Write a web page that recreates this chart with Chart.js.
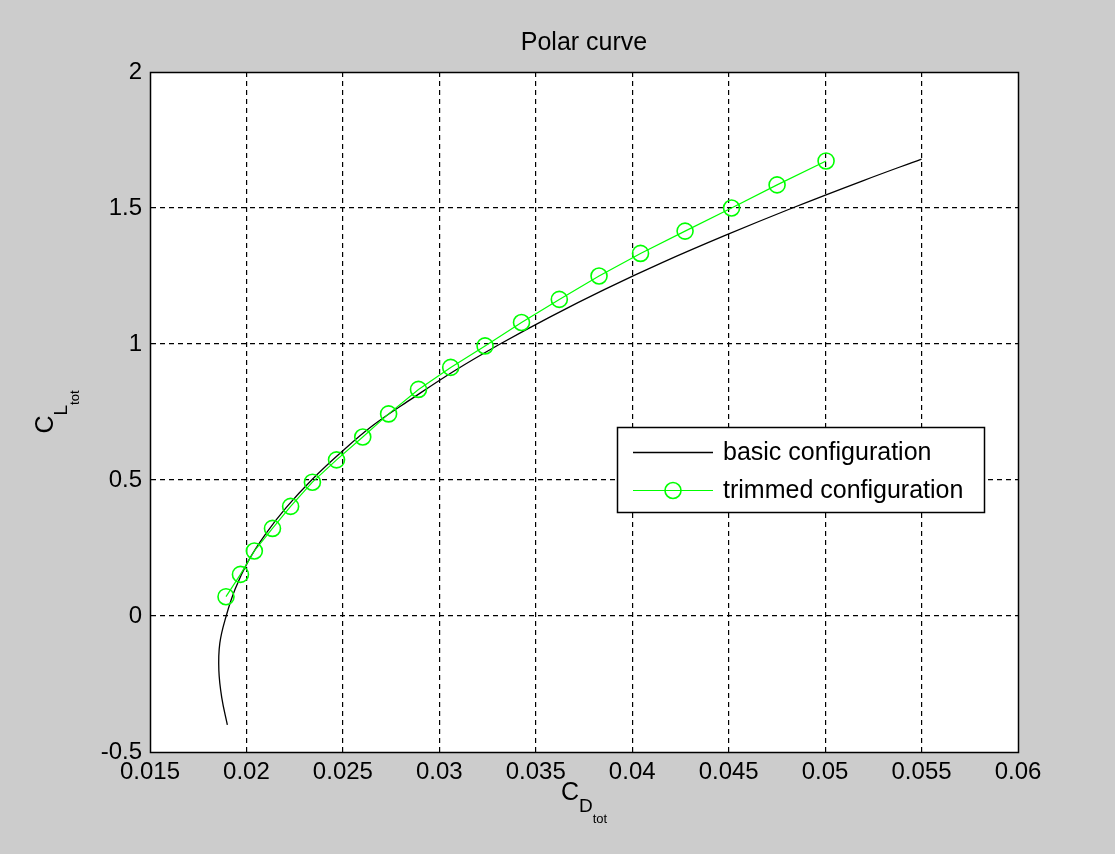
<!DOCTYPE html>
<html>
<head>
<meta charset="utf-8">
<title>Polar curve</title>
<script src="https://cdn.jsdelivr.net/npm/chart.js@4.4.1/dist/chart.umd.min.js"></script>
<style>
  body { margin: 0; background: #cccccc; }
  #wrap { width: 1115px; height: 854px; }
</style>
</head>
<body>
<div id="wrap"><canvas id="polar" width="1115" height="854"></canvas></div>
<script>
// basic configuration: drag coefficient vs lift coefficient
const clBasic = [-0.4, -0.3, -0.2, -0.1, 0, 0.1, 0.2, 0.3, 0.4, 0.5, 0.6, 0.7, 0.8, 0.9, 1.0, 1.1, 1.2, 1.3, 1.4, 1.5, 1.6, 1.68];
const cdBasic = [0.01901, 0.01872, 0.01857, 0.01862, 0.01895, 0.01942, 0.02008, 0.02098, 0.02208, 0.02338, 0.02488, 0.02655, 0.02860, 0.03075, 0.03315, 0.03575, 0.03855, 0.04158, 0.04485, 0.04830, 0.05195, 0.0550];

// trimmed configuration, one marker per point
const clTrim = [0.071, 0.153, 0.239, 0.322, 0.403, 0.492, 0.574, 0.658, 0.743, 0.833, 0.914, 0.993, 1.079, 1.164, 1.250, 1.333, 1.415, 1.500, 1.585, 1.673];
const cdTrim = [0.01894, 0.01969, 0.02041, 0.02135, 0.02229, 0.02342, 0.02467, 0.02603, 0.02737, 0.02892, 0.03059, 0.03237, 0.03426, 0.03622, 0.03828, 0.04043, 0.04274, 0.04515, 0.04751, 0.05005];

const xTicks = [0.015, 0.02, 0.025, 0.03, 0.035, 0.04, 0.045, 0.05, 0.055, 0.06];
const xTickLabels = ['0.015', '0.02', '0.025', '0.03', '0.035', '0.04', '0.045', '0.05', '0.055', '0.06'];
const yTicks = [-0.5, 0, 0.5, 1, 1.5, 2];
const yTickLabels = ['-0.5', '0', '0.5', '1', '1.5', '2'];

const FONT = 'Liberation Sans, Arial, Helvetica, sans-serif';

function toPoints(xs, ys) {
    return xs.map((x, i) => ({ x: x, y: ys[i] }));
}

// dotted grid only inside the box, the edges are drawn solid by the frame
function innerGrid(count) {
    return c => (c.index === 0 || c.index === count - 1) ? 'rgba(0,0,0,0)' : '#000';
}

// grey figure, white axes
const backdrop = {
    id: 'backdrop',
    beforeDraw(chart) {
        const { ctx, chartArea: a } = chart;
        ctx.save();
        ctx.fillStyle = '#cccccc';
        ctx.fillRect(0, 0, chart.width, chart.height);
        ctx.fillStyle = '#ffffff';
        ctx.fillRect(a.left, a.top, a.right - a.left, a.bottom - a.top);
        ctx.restore();
    }
};

// solid box around the axes
const frame = {
    id: 'frame',
    afterDatasetsDraw(chart) {
        const { ctx, chartArea: a } = chart;
        ctx.save();
        ctx.strokeStyle = '#000';
        ctx.lineWidth = 1.5;
        ctx.strokeRect(Math.round(a.left) + 0.5, Math.round(a.top) + 0.5,
            Math.round(a.right - a.left), Math.round(a.bottom - a.top));
        ctx.restore();
    }
};

// C with a subscript and a second-level subscript
function drawSubLabel(ctx, parts) {
    let w = 0;
    parts.forEach(p => {
        ctx.font = p.size + 'px ' + FONT;
        p.w = ctx.measureText(p.text).width;
        w += p.w;
    });
    let x = -w / 2;
    parts.forEach(p => {
        ctx.font = p.size + 'px ' + FONT;
        ctx.fillText(p.text, x, p.dy);
        x += p.w;
    });
}

const axisTitles = {
    id: 'axisTitles',
    afterDraw(chart) {
        const { ctx, chartArea: a } = chart;
        const midX = (a.left + a.right) / 2;
        ctx.save();
        ctx.fillStyle = '#000';

        // title over the axes
        ctx.font = '25px ' + FONT;
        ctx.textAlign = 'center';
        ctx.textBaseline = 'middle';
        ctx.fillText('Polar curve', midX, 43);

        ctx.textBaseline = 'alphabetic';
        ctx.textAlign = 'left';

        ctx.save();
        ctx.translate(midX, 800);
        drawSubLabel(ctx, [
            { text: 'C', size: 25, dy: 0 },
            { text: 'D', size: 19, dy: 12 },
            { text: 'tot', size: 13, dy: 23 }
        ]);
        ctx.restore();

        ctx.save();
        ctx.translate(53, (a.top + a.bottom) / 2);
        ctx.rotate(-Math.PI / 2);
        drawSubLabel(ctx, [
            { text: 'C', size: 25, dy: 0 },
            { text: 'L', size: 19, dy: 14 },
            { text: 'tot', size: 13, dy: 26 }
        ]);
        ctx.restore();

        ctx.restore();
    }
};

// boxed legend inside the axes
const boxLegend = {
    id: 'boxLegend',
    afterDraw(chart) {
        const { ctx } = chart;
        const left = 617, top = 427, w = 367, h = 85;
        const rows = [chart.data.datasets[1], chart.data.datasets[0]];
        ctx.save();
        ctx.fillStyle = '#fff';
        ctx.fillRect(left, top, w, h);
        ctx.strokeStyle = '#000';
        ctx.lineWidth = 1.5;
        ctx.strokeRect(left + 0.5, top + 0.5, w, h);

        ctx.font = '25px ' + FONT;
        ctx.textBaseline = 'middle';
        ctx.textAlign = 'left';
        rows.forEach((ds, i) => {
            const y = top + 25 + i * 38;
            ctx.strokeStyle = ds.borderColor;
            ctx.lineWidth = ds.borderWidth;
            ctx.beginPath();
            ctx.moveTo(633, y + 0.5);
            ctx.lineTo(713, y + 0.5);
            ctx.stroke();
            if (ds.pointRadius > 0) {
                ctx.lineWidth = ds.pointBorderWidth;
                ctx.beginPath();
                ctx.arc(673, y + 0.5, ds.pointRadius, 0, Math.PI * 2);
                ctx.stroke();
            }
            ctx.fillStyle = '#000';
            ctx.fillText(ds.label, 723, y + 1);
        });
        ctx.restore();
    }
};

const ctx = document.getElementById('polar').getContext('2d');
const polarChart = new Chart(ctx, {
    type: 'scatter',
    data: {
        datasets: [{
            label: 'trimmed configuration',
            data: toPoints(cdTrim, clTrim),
            showLine: true,
            borderColor: '#00ff00',
            borderWidth: 1.2,
            backgroundColor: 'rgba(0,0,0,0)',
            pointRadius: 8,
            pointBorderWidth: 1.6,
            pointBorderColor: '#00ff00',
            pointBackgroundColor: 'rgba(0,0,0,0)',
            tension: 0,
            order: 0
        }, {
            label: 'basic configuration',
            data: toPoints(cdBasic, clBasic),
            showLine: true,
            borderColor: '#000000',
            borderWidth: 1.3,
            pointRadius: 0,
            tension: 0.4,
            order: 1
        }]
    },
    options: {
        responsive: false,
        animation: false,
        layout: { padding: { left: 0, right: 97, top: 72, bottom: 0 } },
        plugins: {
            legend: { display: false },
            tooltip: { enabled: false },
            title: { display: false }
        },
        scales: {
            x: {
                type: 'linear',
                min: 0.015,
                max: 0.06,
                afterBuildTicks: scale => { scale.ticks = xTicks.map(v => ({ value: v })); },
                afterFit: scale => { scale.height = 102; },
                ticks: {
                    color: '#000',
                    font: { family: FONT, size: 24 },
                    padding: 6,
                    maxRotation: 0,
                    callback: (v, i) => xTickLabels[i]
                },
                grid: { color: innerGrid(xTicks.length), lineWidth: 1.2, drawTicks: false },
                border: { display: true, color: '#000', width: 1, dash: [5, 4] }
            },
            y: {
                type: 'linear',
                min: -0.5,
                max: 2,
                afterBuildTicks: scale => { scale.ticks = yTicks.map(v => ({ value: v })); },
                afterFit: scale => { scale.width = 150; },
                ticks: {
                    color: '#000',
                    font: { family: FONT, size: 24 },
                    padding: 8,
                    callback: (v, i) => yTickLabels[i]
                },
                grid: { color: innerGrid(yTicks.length), lineWidth: 1.2, drawTicks: false },
                border: { display: true, color: '#000', width: 1, dash: [5, 4] }
            }
        }
    },
    plugins: [backdrop, frame, axisTitles, boxLegend]
});
</script>
</body>
</html>
